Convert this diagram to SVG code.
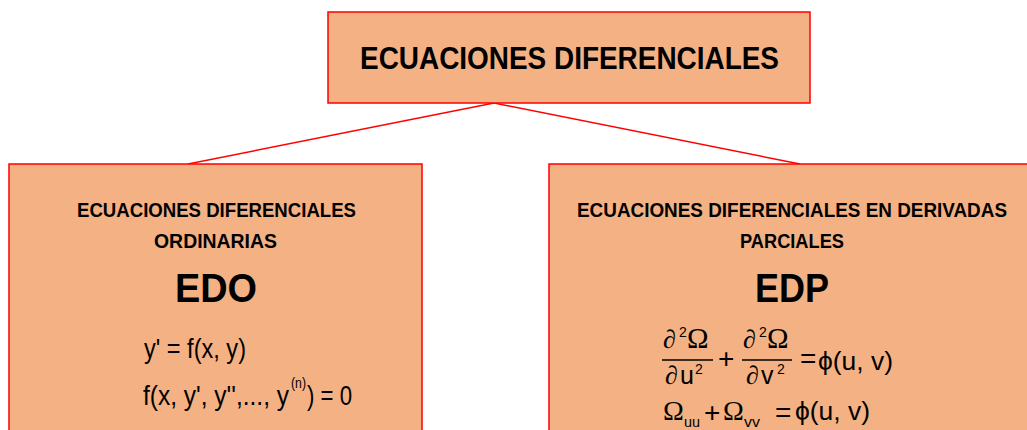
<svg xmlns="http://www.w3.org/2000/svg" width="1027" height="430" viewBox="0 0 1027 430">
<style>
.box{fill:#F4B183;stroke:#FF0000;stroke-width:1.5}
.h{font-family:"Liberation Sans",Arial,sans-serif;font-weight:bold;fill:#000}
.m{font-family:"Liberation Sans",Arial,sans-serif;fill:#000}
.g{font-family:"Liberation Serif","DejaVu Serif",serif;fill:#000}
.conn{stroke:#FF0000;stroke-width:1.5;fill:none}
.bar{stroke:#000;stroke-width:1.3}
</style>
<rect width="1027" height="430" fill="#FFFFFF"/>
<g id="connectors">
<line class="conn" x1="494" y1="103" x2="188" y2="164"/>
<line class="conn" x1="494" y1="103" x2="800" y2="164"/>
</g>
<g id="root">
<rect class="box" x="328" y="12" width="482" height="91"/>
<text class="h" x="360" y="69" font-size="31" textLength="419" lengthAdjust="spacingAndGlyphs">ECUACIONES DIFERENCIALES</text>
</g>
<g id="edo">
<rect class="box" x="9" y="164" width="413" height="280"/>
<text class="h" x="77" y="217" font-size="20" textLength="279" lengthAdjust="spacingAndGlyphs">ECUACIONES DIFERENCIALES</text>
<text class="h" x="154" y="248" font-size="20" textLength="123" lengthAdjust="spacingAndGlyphs">ORDINARIAS</text>
<text class="h" x="175" y="302" font-size="41" textLength="82" lengthAdjust="spacingAndGlyphs">EDO</text>
<text class="m" x="144" y="358" font-size="27" textLength="102" lengthAdjust="spacingAndGlyphs">y' = f(x, y)</text>
<text class="m" x="143" y="405" font-size="27" textLength="146" lengthAdjust="spacingAndGlyphs">f(x, y', y'',..., y</text>
<text class="m" x="291" y="388" font-size="14" textLength="15" lengthAdjust="spacingAndGlyphs">(n)</text>
<text class="m" x="307" y="405" font-size="27" textLength="45" lengthAdjust="spacingAndGlyphs">) = 0</text>
</g>
<g id="edp">
<rect class="box" x="549" y="164" width="490" height="280"/>
<text class="h" x="577" y="217" font-size="20" textLength="430" lengthAdjust="spacingAndGlyphs">ECUACIONES DIFERENCIALES EN DERIVADAS</text>
<text class="h" x="740" y="248" font-size="20" textLength="104" lengthAdjust="spacingAndGlyphs">PARCIALES</text>
<text class="h" x="755" y="302" font-size="41" textLength="74" lengthAdjust="spacingAndGlyphs">EDP</text>
<text class="g" x="663" y="348" font-size="26" font-style="italic">∂</text>
<text class="m" x="679" y="337" font-size="14">2</text>
<text class="g" x="687" y="348" font-size="29">Ω</text>
<line class="bar" x1="662" y1="360" x2="713" y2="360"/>
<text class="g" x="665" y="384" font-size="26" font-style="italic">∂</text>
<text class="m" x="680" y="384" font-size="25">u</text>
<text class="m" x="695" y="374" font-size="14">2</text>
<text class="m" x="718" y="368" font-size="28">+</text>
<text class="g" x="743" y="348" font-size="26" font-style="italic">∂</text>
<text class="m" x="759" y="337" font-size="14">2</text>
<text class="g" x="767" y="348" font-size="29">Ω</text>
<line class="bar" x1="742" y1="360" x2="792" y2="360"/>
<text class="g" x="746" y="384" font-size="26" font-style="italic">∂</text>
<text class="m" x="761" y="384" font-size="25">v</text>
<text class="m" x="777" y="374" font-size="14">2</text>
<text class="m" x="800" y="368" font-size="28">=</text>
<text class="m" x="818" y="370" font-size="26" textLength="75" lengthAdjust="spacingAndGlyphs">ϕ(u, v)</text>
<text class="g" x="663" y="420" font-size="28">Ω</text>
<text class="m" x="684" y="427" font-size="15" textLength="16" lengthAdjust="spacingAndGlyphs">uu</text>
<text class="m" x="704" y="422" font-size="28">+</text>
<text class="g" x="723" y="420" font-size="28">Ω</text>
<text class="m" x="744" y="427" font-size="15" textLength="16" lengthAdjust="spacingAndGlyphs">vv</text>
<text class="m" x="775" y="422" font-size="28">=</text>
<text class="m" x="795" y="420" font-size="26" textLength="75" lengthAdjust="spacingAndGlyphs">ϕ(u, v)</text>
</g>
</svg>
